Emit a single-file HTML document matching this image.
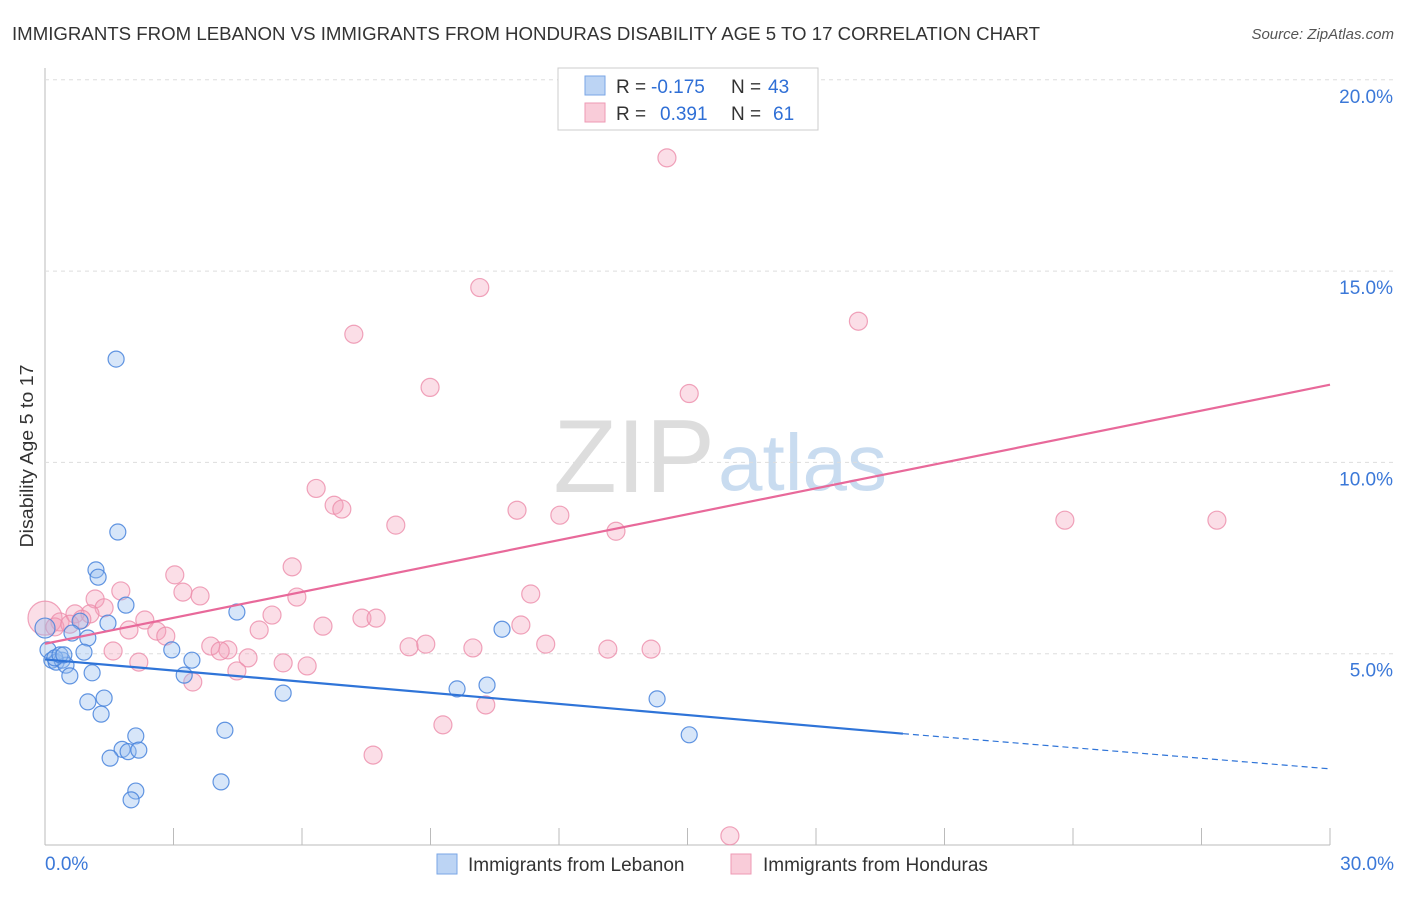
<!DOCTYPE html>
<html><head><meta charset="utf-8"><style>
body{margin:0;background:#fff;font-family:"Liberation Sans",sans-serif;}
svg text{font-family:"Liberation Sans",sans-serif;}
</style></head><body>
<svg id="c" width="1406" height="892">
<text x="12" y="40" font-size="18" fill="#333" textLength="1028" lengthAdjust="spacingAndGlyphs">IMMIGRANTS FROM LEBANON VS IMMIGRANTS FROM HONDURAS DISABILITY AGE 5 TO 17 CORRELATION CHART</text>
<text x="1394" y="39" font-size="15" fill="#555" text-anchor="end" font-style="italic">Source: ZipAtlas.com</text>
<text x="0" y="0" font-size="18" fill="#333" text-anchor="middle" textLength="183" lengthAdjust="spacingAndGlyphs" transform="translate(33 456) rotate(-90)">Disability Age 5 to 17</text>
<text x="715" y="492" font-size="104" fill="#ddd" text-anchor="end" font-family="Liberation Serif">ZIP</text>
<text x="718" y="490" font-size="80" fill="#c9dcf0">atlas</text>
<g id="grid"></g><g id="pts"></g><g id="lines"></g>
<g>
<rect x="558" y="68" width="260" height="62" fill="#fff" stroke="#ccc"/>
<rect x="585" y="76" width="20" height="19" fill="#bcd4f4" stroke="#7aa6e6"/>
<rect x="585" y="103" width="20" height="19" fill="#f9ccd9" stroke="#ee9ab4"/>
<text x="616" y="93" font-size="19" fill="#333">R =</text>
<text x="651" y="93" font-size="19" fill="#2f6fd6">-0.175</text>
<text x="731" y="93" font-size="19" fill="#333">N =</text>
<text x="768" y="93" font-size="19" fill="#2f6fd6">43</text>
<text x="616" y="120" font-size="19" fill="#333">R =</text>
<text x="660" y="120" font-size="19" fill="#2f6fd6">0.391</text>
<text x="731" y="120" font-size="19" fill="#333">N =</text>
<text x="773" y="120" font-size="19" fill="#2f6fd6">61</text>
</g>
<g>
<rect x="437" y="854" width="20" height="20" fill="#bcd4f4" stroke="#7aa6e6"/>
<text x="468" y="871" font-size="19" fill="#333">Immigrants from Lebanon</text>
<rect x="731" y="854" width="20" height="20" fill="#f9ccd9" stroke="#ee9ab4"/>
<text x="763" y="871" font-size="19" fill="#333">Immigrants from Honduras</text>
</g>
</svg>
<script>
const xTicks=[0,3,6,9,12,15,18,21,24,27,30];
const yTicks=[5,10,15,20];
const lebX=[1.66,1.7,1.19,1.24,1.89,4.48,1.47,0.82,0.63,1.0,0.91,0.07,0.16,0.26,0.4,0.49,0.58,1.1,2.96,3.43,3.25,1.0,1.38,1.31,5.56,9.62,10.32,10.67,14.29,15.04,4.2,2.12,1.8,1.94,2.19,1.52,4.11,2.12,2.01,0.23,0.35,0,0.44];
const lebY=[12.7,8.18,7.19,7,6.27,6.09,5.8,5.85,5.54,5.41,5.04,5.1,4.83,4.78,4.83,4.7,4.42,4.5,5.1,4.83,4.44,3.74,3.84,3.42,3.97,4.08,4.18,5.64,3.82,2.88,3,2.85,2.5,2.44,2.48,2.27,1.65,1.41,1.18,4.89,4.97,5.67,4.97];
const honX=[14.52,10.15,18.99,7.21,8.99,15.04,6.33,6.75,6.93,8.19,11.02,12.02,13.33,23.81,27.36,3.03,5.77,1.77,3.22,3.62,1.17,1.38,11.34,5.88,5.3,7.4,7.73,2.33,1.96,2.61,2.82,5,6.49,11.11,3.87,4.27,4.09,8.5,8.89,9.99,11.69,13.14,14.15,1.59,2.19,4.74,5.56,6.12,4.48,3.45,10.29,9.29,7.66,15.99,0,0.35,0.7,1.05,0.23,0.58,0.86];
const honY=[17.96,14.57,13.69,13.35,11.96,11.8,9.32,8.88,8.78,8.36,8.75,8.62,8.2,8.49,8.49,7.06,7.27,6.64,6.61,6.51,6.43,6.2,6.56,6.48,6.01,5.93,5.93,5.88,5.62,5.59,5.46,5.62,5.72,5.75,5.2,5.1,5.07,5.18,5.25,5.15,5.25,5.12,5.12,5.07,4.78,4.89,4.76,4.68,4.55,4.26,3.66,3.14,2.35,0.24,5.93,5.83,6.04,6.04,5.7,5.77,5.9];
const lebLine=[[0,4.85],[20.03,2.91],[30,1.99]];
const honLine=[[0,5.26],[30,12.03]];
const X=v=>45+v/30*1285, Y=v=>845-v/5*191.3;
const NS='http://www.w3.org/2000/svg';
function mk(t,a,p){const e=document.createElementNS(NS,t);for(const k in a)e.setAttribute(k,a[k]);p.appendChild(e);return e;}
const g=document.getElementById('grid');
mk('line',{x1:45,y1:68,x2:45,y2:845,stroke:'#bbb'},g);
mk('line',{x1:45,y1:845,x2:1330,y2:845,stroke:'#bbb'},g);
yTicks.forEach(v=>{
 const l=mk('line',{x1:45,y1:Y(v),x2:1394,y2:Y(v),stroke:'#ddd','stroke-dasharray':'4,4'},g);
 
 
 const t=mk('text',{x:1393,y:Y(v)+23,'font-size':19,fill:'#3b78d8','text-anchor':'end'},g);t.textContent=v.toFixed(1)+'%';
 
 
});
xTicks.forEach(v=>{
 const l=mk('line',{x1:X(v),y1:828,x2:X(v),y2:845,stroke:'#bbb'},g);
 
 
});
[[0,'0.0%','start',45],[30,'30.0%','end',1394]].forEach(a=>{
 const t=mk('text',{x:a[3],y:870,'font-size':19,fill:'#3b78d8','text-anchor':a[2]},g);t.textContent=a[1];
 
 
});
const p=document.getElementById('pts');
honX.forEach((v,i)=>{const c=mk('circle',{cx:X(v),cy:Y(honY[i]),r:i==54?17:9,fill:'rgba(244,160,185,0.35)',stroke:'rgba(236,140,170,0.8)','stroke-width':1.2},p);
 
 });
lebX.forEach((v,i)=>{const c=mk('circle',{cx:X(v),cy:Y(lebY[i]),r:i==41?10:8,fill:'rgba(150,190,240,0.38)',stroke:'rgba(70,130,220,0.85)','stroke-width':1.2},p);
 
 });
const L=document.getElementById('lines');
let e=mk('line',{x1:X(lebLine[0][0]),y1:Y(lebLine[0][1]),x2:X(lebLine[1][0]),y2:Y(lebLine[1][1]),stroke:'#2f74d8','stroke-width':2.2},L);


e=mk('line',{x1:X(lebLine[1][0]),y1:Y(lebLine[1][1]),x2:X(lebLine[2][0]),y2:Y(lebLine[2][1]),stroke:'#2f74d8','stroke-width':1.2,'stroke-dasharray':'6,4'},L);


e=mk('line',{x1:X(honLine[0][0]),y1:Y(honLine[0][1]),x2:X(honLine[1][0]),y2:Y(honLine[1][1]),stroke:'#e8699a','stroke-width':2.2},L);


</script>
</body></html>
